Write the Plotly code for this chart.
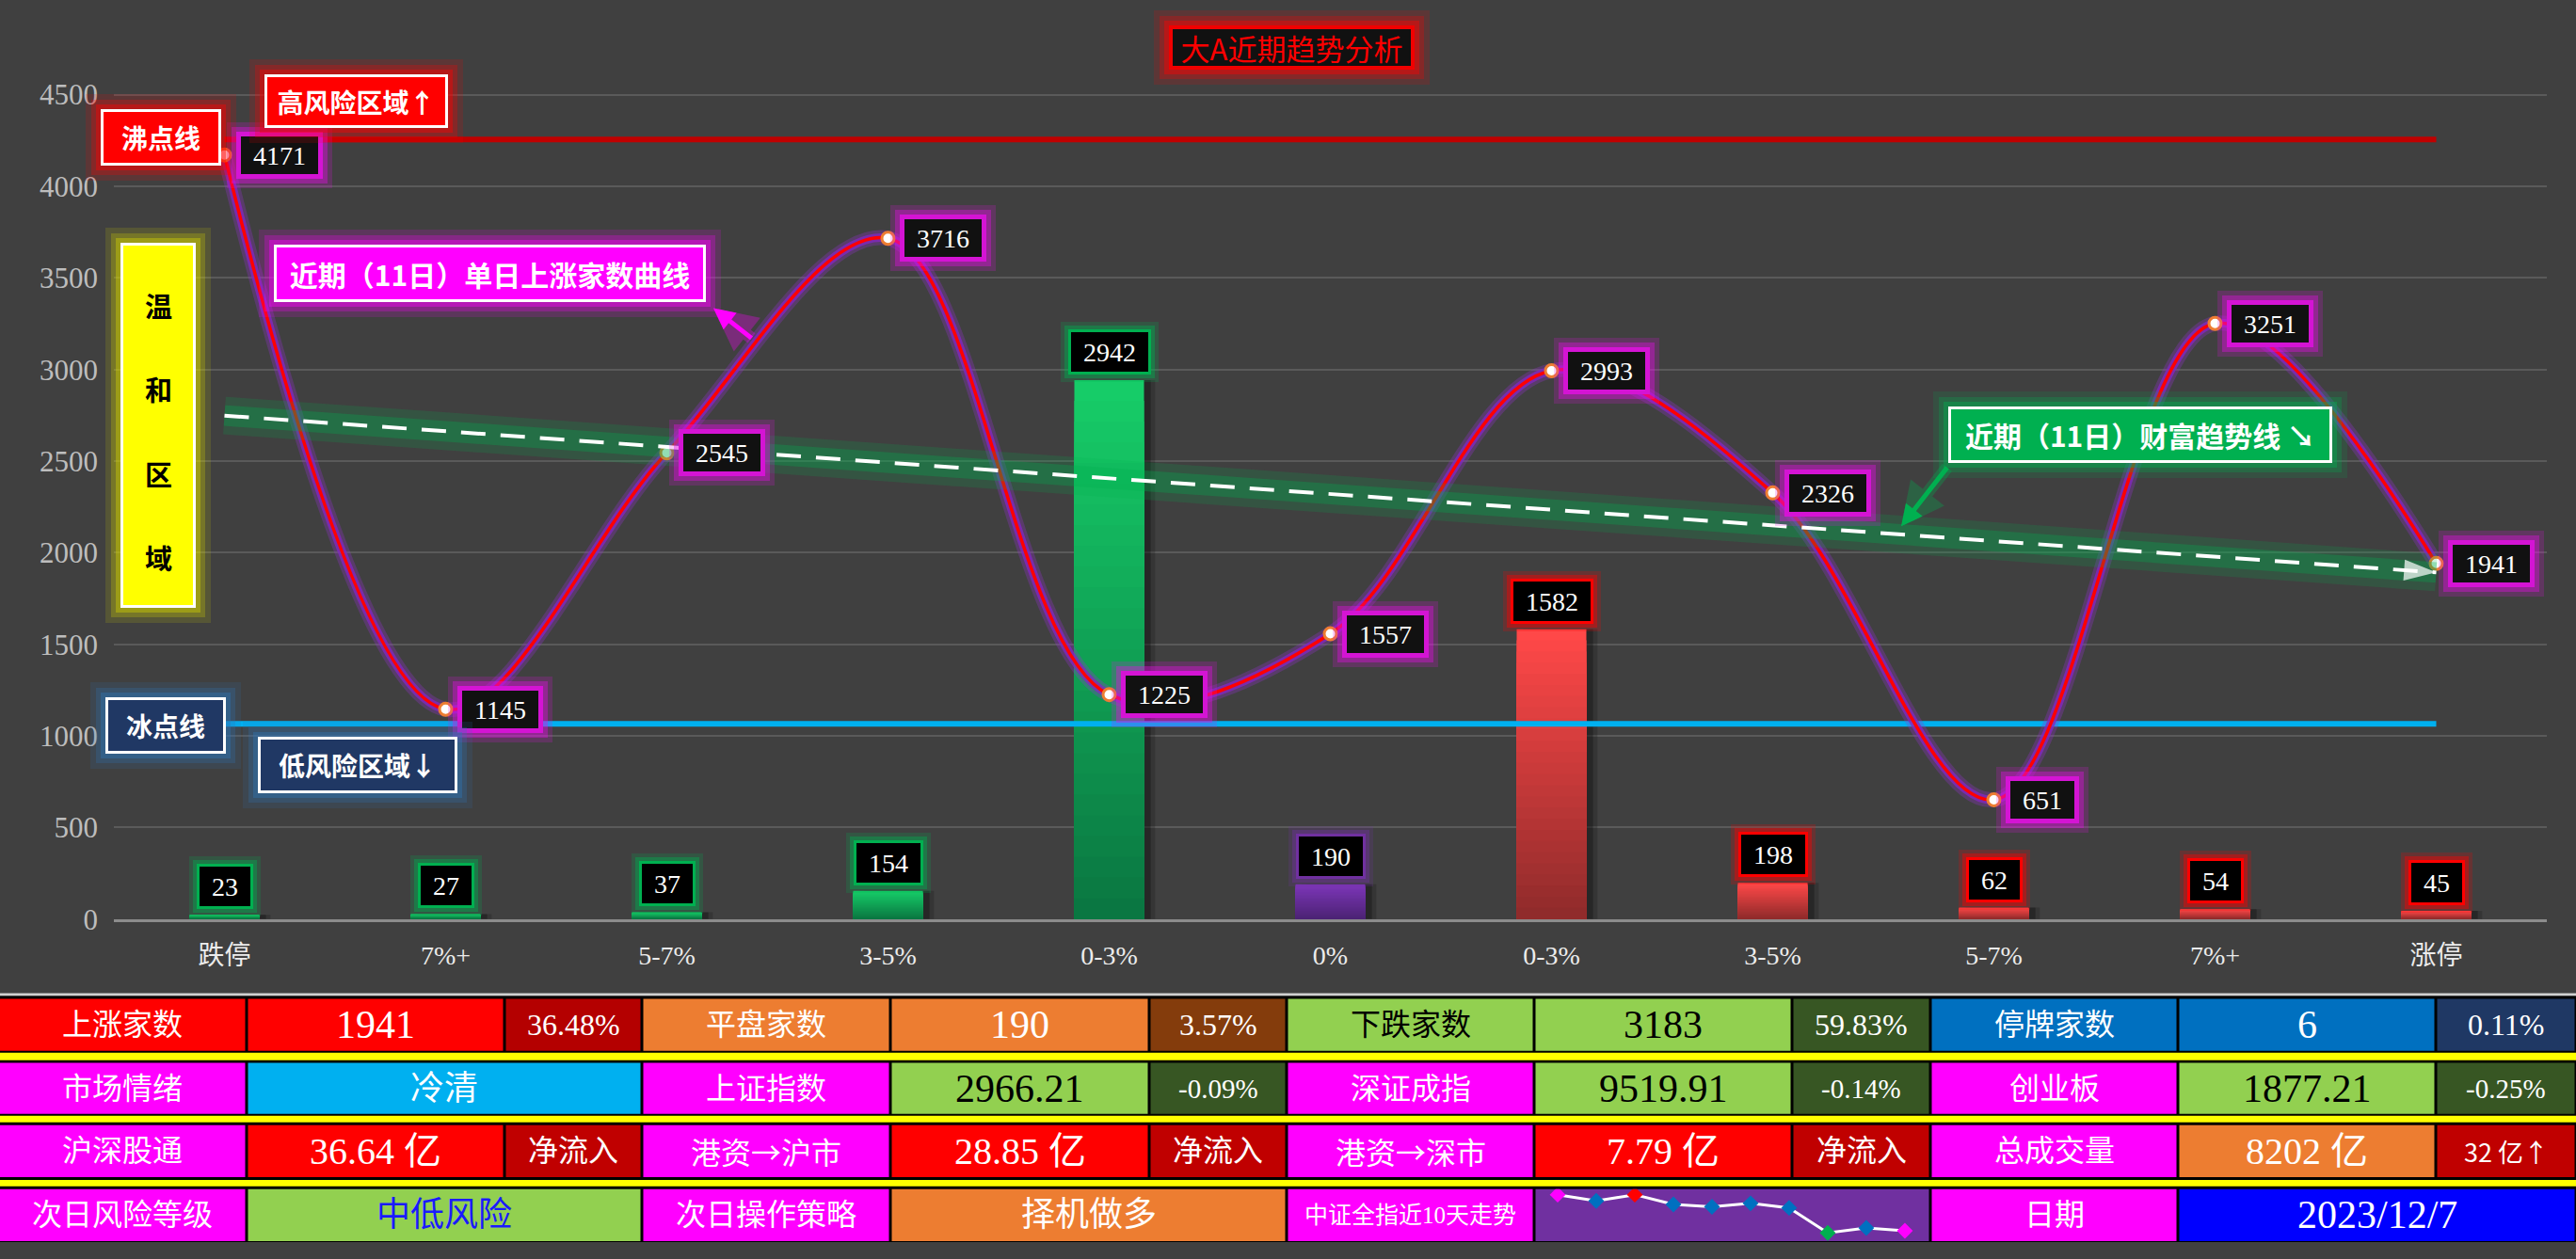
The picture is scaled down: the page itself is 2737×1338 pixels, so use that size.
import numpy as np
import plotly.graph_objects as go

W, H = 2737, 1338

# ---------------- data ----------------
categories = ['跌停', '7%+', '5-7%', '3-5%', '0-3%', '0%', '0-3%', '3-5%', '5-7%', '7%+', '涨停']
bar_values = [23, 27, 37, 154, 2942, 190, 1582, 198, 62, 54, 45]
bar_groups = ['down', 'down', 'down', 'down', 'down', 'flat', 'up', 'up', 'up', 'up', 'up']
rise_counts = [4171, 1145, 2545, 3716, 1225, 1557, 2993, 2326, 651, 3251, 1941]
boiling_point = 4255
freezing_point = 1065
y_ticks = [0, 500, 1000, 1500, 2000, 2500, 3000, 3500, 4000, 4500]

spark_values = [4790, 4772, 4790, 4762, 4755, 4765, 4752, 4680, 4694, 4686]
spark_marker_colors = ['#ff00ff', '#0070c0', '#ff0000', '#0070c0', '#0070c0',
                       '#0070c0', '#0070c0', '#00b050', '#0070c0', '#ff00ff']

row1_text = ['上涨家数', '1941', '36.48%', '平盘家数', '190', '3.57%',
             '下跌家数', '3183', '59.83%', '停牌家数', '6', '0.11%']
row2_text = ['市场情绪', '冷清', '上证指数', '2966.21', '-0.09%', '深证成指', '9519.91',
             '-0.14%', '创业板', '1877.21', '-0.25%']
row3_text = ['沪深股通', '36.64 亿', '净流入', '港资→沪市', '28.85 亿', '净流入',
             '港资→深市', '7.79 亿', '净流入', '总成交量', '8202 亿', '32 亿↑']
row4_text = ['次日风险等级', '中低风险', '次日操作策略', '择机做多', '中证全指近10天走势', '',
             '日期', '2023/12/7']

# ---------------- styles ----------------
row1_span = [1] * 12
row2_span = [1, 2, 1, 1, 1, 1, 1, 1, 1, 1, 1]
row3_span = [1] * 12
row4_span = [1, 2, 1, 2, 1, 2, 1, 2]

MAG = '#ff00ff'
row1_bg = ['#ff0000', '#ff0000', '#b40000', '#ed7d31', '#ed7d31', '#843c0c',
           '#92d050', '#92d050', '#375623', '#0070c0', '#0070c0', '#1f3864']
row1_fg = ['white', 'white', 'white', 'white', 'white', 'white',
           'black', 'black', 'white', 'white', 'white', 'white']
row1_size = [32, 42, 32, 32, 42, 32, 32, 42, 32, 32, 42, 32]
row2_bg = [MAG, '#00b0f0', MAG, '#92d050', '#375623', MAG, '#92d050', '#375623',
           MAG, '#92d050', '#375623']
row2_fg = ['white', 'white', 'white', 'black', 'white', 'white', 'black', 'white',
           'white', 'black', 'white']
row2_size = [32, 36, 32, 42, 29, 32, 42, 29, 32, 42, 29]
row3_bg = [MAG, '#ff0000', '#c00000', MAG, '#ff0000', '#c00000', MAG, '#ff0000', '#c00000',
           MAG, '#ed7d31', '#c00000']
row3_fg = ['white'] * 12
row3_size = [32, 40, 32, 32, 40, 32, 32, 40, 32, 32, 40, 27]
row4_bg = [MAG, '#92d050', MAG, '#ed7d31', MAG, '#7030a0', MAG, '#0000ff']
row4_fg = ['white', '#1a1aff', 'white', 'white', 'white', 'white', 'white', 'white']
row4_size = [32, 36, 32, 36, 25, 10, 32, 42]

col_edges = [0, 262, 536, 682, 946, 1221, 1367, 1630, 1904, 2051, 2314, 2588, 2737]
row_bands = [(1076, 1132), (1145, 1200), (1212, 1268), (1281, 1337)]
sep_bands = [(1134, 1142), (1202, 1209), (1271, 1278)]

SERIF = 'Liberation Serif, Noto Sans CJK SC'
SANS = 'Noto Sans CJK SC'


def px(x):
    return x / W


def py(y):
    return 1 - y / H


def hex2rgb(c):
    c = c.lstrip('#')
    return tuple(int(c[i:i + 2], 16) for i in (0, 2, 4))


def rgba(c, a):
    r, g, b = hex2rgb(c)
    return f'rgba({r},{g},{b},{a})'


def mix(c1, c2, t):
    a, b = hex2rgb(c1), hex2rgb(c2)
    return 'rgb(%d,%d,%d)' % tuple(round(a[i] + (b[i] - a[i]) * t) for i in range(3))


group_top = {'down': '#16cc68', 'flat': '#7d36b8', 'up': '#ff4848'}
group_bottom = {'down': '#0a7440', 'flat': '#4a2272', 'up': '#8c2a2a'}
label_border = {'down': '#00b050', 'flat': '#7030a0', 'up': '#ff0000'}

xs = list(range(len(categories)))
fig = go.Figure()

# ---- bar shadows ----
BW = 0.315
for off, a in [(0.05, 0.22), (0.03, 0.35)]:
    fig.add_trace(go.Bar(x=xs, y=bar_values, width=BW, offset=-BW / 2 + off,
                         marker=dict(color=f'rgba(15,15,15,{a})', line=dict(width=0)),
                         hoverinfo='skip', showlegend=False))

# ---- gradient bars (layered overlay) ----
N = 26
for k in range(N):
    f = 1 - k / N
    fig.add_trace(go.Bar(
        x=xs, y=[v * f for v in bar_values], width=BW,
        marker=dict(color=[mix(group_bottom[g], group_top[g], f) for g in bar_groups],
                    line=dict(width=0)),
        hoverinfo='skip', showlegend=False))

# ---- threshold lines ----
fig.add_trace(go.Scatter(x=xs, y=[boiling_point] * len(xs), mode='lines',
                         line=dict(color='#c00000', width=6), hoverinfo='skip', showlegend=False))
fig.add_trace(go.Scatter(x=xs, y=[freezing_point] * len(xs), mode='lines',
                         line=dict(color='#00b0f0', width=6), hoverinfo='skip', showlegend=False))

# ---- rise count curve ----
fig.add_trace(go.Scatter(x=xs, y=rise_counts, mode='lines',
                         line=dict(color='rgba(150,50,210,0.3)', width=16, shape='spline', smoothing=1),
                         hoverinfo='skip', showlegend=False))
fig.add_trace(go.Scatter(x=xs, y=rise_counts, mode='lines',
                         line=dict(color='rgba(130,40,190,0.8)', width=9, shape='spline', smoothing=1),
                         hoverinfo='skip', showlegend=False))
fig.add_trace(go.Scatter(x=xs, y=rise_counts, mode='lines',
                         line=dict(color='#ff0000', width=3.5, shape='spline', smoothing=1),
                         hoverinfo='skip', showlegend=False))
fig.add_trace(go.Scatter(x=xs, y=rise_counts, mode='markers',
                         marker=dict(size=13, color='white', line=dict(color='#ed7d31', width=3)),
                         hoverinfo='skip', showlegend=False))

# ---- linear trend of rise counts ----
coef = np.polyfit(xs, rise_counts, 1)
trend_x = [xs[0], xs[-1]]
trend_y = list(np.polyval(coef, trend_x))
fig.add_trace(go.Scatter(x=trend_x, y=trend_y, mode='lines',
                         line=dict(color='rgba(0,176,80,0.18)', width=40),
                         hoverinfo='skip', showlegend=False))
fig.add_trace(go.Scatter(x=trend_x, y=trend_y, mode='lines',
                         line=dict(color='rgba(0,176,80,0.3)', width=22),
                         hoverinfo='skip', showlegend=False))
fig.add_trace(go.Scatter(x=trend_x, y=trend_y, mode='lines',
                         line=dict(color='white', width=4, dash='26px,16px'),
                         hoverinfo='skip', showlegend=False))
fig.add_trace(go.Scatter(x=trend_x, y=trend_y, mode='markers',
                         marker=dict(symbol='arrow', size=[1, 36], angleref='previous',
                                     color=['rgba(0,0,0,0)', 'white'], line=dict(width=0)),
                         hoverinfo='skip', showlegend=False))

# ---- sparkline in table ----
fig.add_trace(go.Scatter(x=list(range(len(spark_values))), y=spark_values, xaxis='x2', yaxis='y2',
                         mode='lines+markers', line=dict(color='white', width=3),
                         marker=dict(symbol='diamond', size=13, color=spark_marker_colors),
                         hoverinfo='skip', showlegend=False))

anns = []

# ---- line labels ----
for i, v in enumerate(rise_counts):
    for g, a in [(10, 0.2), (5, 0.4)]:
        anns.append(dict(x=i, y=v, xref='x', yref='y', text=f'\u00a0{v}\u00a0', showarrow=False,
                         font=dict(family=SERIF, size=28, color='rgba(0,0,0,0)'),
                         xanchor='left', yanchor='middle', xshift=12 - g, height=28,
                         bgcolor=rgba('#e010e0', a), borderwidth=0, borderpad=5 + 6 + g))
for i, v in enumerate(rise_counts):
    anns.append(dict(x=i, y=v, xref='x', yref='y', text=f'\u00a0{v}\u00a0', showarrow=False,
                     font=dict(family=SERIF, size=28, color='white'),
                     xanchor='left', yanchor='middle', xshift=12, height=28,
                     bgcolor='#111111', bordercolor='#d414d4', borderwidth=5, borderpad=6))

# ---- bar labels ----
for i, v in enumerate(bar_values):
    bc = label_border[bar_groups[i]]
    for g, a in [(8, 0.2), (4, 0.4)]:
        anns.append(dict(x=i, y=v, xref='x', yref='y', text=f'\u00a0{v}\u00a0', showarrow=False,
                         font=dict(family=SERIF, size=28, color='rgba(0,0,0,0)'),
                         xanchor='center', yanchor='bottom', yshift=6 - g, height=30,
                         bgcolor=rgba(bc, a), borderwidth=0, borderpad=3 + 6 + g))
    anns.append(dict(x=i, y=v, xref='x', yref='y', text=f'\u00a0{v}\u00a0', showarrow=False,
                     font=dict(family=SERIF, size=28, color='white'),
                     xanchor='center', yanchor='bottom', yshift=6, height=30,
                     bgcolor='#000000', bordercolor=bc, borderwidth=3, borderpad=6))


# ---- decorated boxes ----
def add_box(text, cx, cy, w, h, bg, fg, size, bordercolor='white', bw=3, glow=None, bold=True):
    iw, ih = w - 2 * bw, h - 2 * bw
    t = f'<b>{text}</b>' if bold else text
    if glow:
        for g, a in [(16, 0.15), (10, 0.25), (5, 0.4)]:
            anns.append(dict(x=px(cx), y=py(cy), xref='paper', yref='paper', text=t, showarrow=False,
                             font=dict(family=SANS, size=size, color='rgba(0,0,0,0)'),
                             width=iw, height=ih, bgcolor=rgba(glow, a), borderwidth=0, borderpad=bw + g,
                             xanchor='center', yanchor='middle'))
    anns.append(dict(x=px(cx), y=py(cy), xref='paper', yref='paper', text=t, showarrow=False,
                     font=dict(family=SANS, size=size, color=fg),
                     width=iw, height=ih, bgcolor=bg, bordercolor=bordercolor, borderwidth=bw, borderpad=0,
                     xanchor='center', yanchor='middle'))


def add_arrow(head, tail, color):
    for wdt, col in [(13, rgba(color, 0.3)), (5, color)]:
        anns.append(dict(x=px(head[0]), y=py(head[1]), xref='paper', yref='paper', text='',
                         showarrow=True, ax=tail[0] - head[0], ay=tail[1] - head[1],
                         arrowcolor=col, arrowwidth=wdt, arrowhead=2, arrowsize=0.7 if wdt > 6 else 0.9))


add_box('大A近期趋势分析', 1372, 51, 261, 47, '#111111', '#ff0000', 31, bordercolor='#f00000', bw=4,
        glow='#ff0000', bold=False)
add_box('沸点线', 171, 148, 128, 60, '#ff0000', 'white', 28, glow='#ff0000')
add_box('高风险区域↑', 378, 109, 195, 57, '#ff0000', 'white', 28, glow='#ff0000')
add_box('', 168, 458, 80, 388, '#ffff00', 'black', 10, glow='#d8d800')
for ch, yy in zip('温和区域', [328, 419, 510, 600]):
    anns.append(dict(x=px(168), y=py(yy), xref='paper', yref='paper', text=f'<b>{ch}</b>', showarrow=False,
                     font=dict(family=SANS, size=29, color='black'), xanchor='center', yanchor='middle'))
add_box('近期（11日）单日上涨家数曲线', 520, 294, 459, 61, '#ff00ff', 'white', 30, glow='#ff00ff')
add_box('近期（11日）财富趋势线 ↘', 2274, 468, 408, 60, '#00b050', 'white', 30, glow='#00b050')
add_box('冰点线', 176, 782, 128, 60, '#203864', 'white', 28, glow='#2e75b6')
add_box('低风险区域↓', 380, 824, 212, 60, '#203864', 'white', 28, glow='#2e75b6')
add_arrow((758, 332), (800, 365), '#ff00ff')
add_arrow((2020, 567), (2070, 503), '#00b050')

# ---- table ----
shapes = []
shapes.append(dict(type='rect', xref='paper', yref='paper', x0=0, x1=1, y0=py(1073), y1=py(1070),
                   fillcolor='#d0d0d0', line=dict(width=0), layer='below'))
shapes.append(dict(type='rect', xref='paper', yref='paper', x0=0, x1=1, y0=0, y1=py(1073),
                   fillcolor='#000000', line=dict(width=0), layer='below'))
for (a, b) in sep_bands:
    shapes.append(dict(type='rect', xref='paper', yref='paper', x0=0, x1=1, y0=py(b), y1=py(a),
                       fillcolor='#ffff00', line=dict(width=0), layer='below'))

rows = [(row1_text, row1_span, row1_bg, row1_fg, row1_size),
        (row2_text, row2_span, row2_bg, row2_fg, row2_size),
        (row3_text, row3_span, row3_bg, row3_fg, row3_size),
        (row4_text, row4_span, row4_bg, row4_fg, row4_size)]
for (texts, spans, bgs, fgs, sizes), (top, bot) in zip(rows, row_bands):
    c = 0
    for t, s, bg, fg, sz in zip(texts, spans, bgs, fgs, sizes):
        left = col_edges[c] + (1.5 if c > 0 else 0)
        right = col_edges[c + s] - 1.5
        c += s
        shapes.append(dict(type='rect', xref='paper', yref='paper', x0=px(left), x1=px(right),
                           y0=py(bot), y1=py(top), fillcolor=bg, line=dict(width=0), layer='below'))
        if t:
            fam = SANS if ('→' in t or '↑' in t) else SERIF
            anns.append(dict(x=px((left + right) / 2), y=py((top + bot) / 2), xref='paper', yref='paper',
                             text=t, showarrow=False, font=dict(family=fam, size=sz, color=fg),
                             xanchor='center', yanchor='middle'))

fig.update_layout(
    width=W, height=H, margin=dict(l=0, r=0, t=0, b=0),
    paper_bgcolor='#404040', plot_bgcolor='rgba(0,0,0,0)',
    barmode='overlay', showlegend=False,
    xaxis=dict(domain=[px(121), px(2706)], range=[-0.5, 10.5], tickvals=xs, ticktext=categories,
               showgrid=False, zeroline=False, showline=True, linecolor='#8c8c8c', linewidth=3,
               ticks='', tickfont=dict(family=SERIF, size=28, color='#ececec'), ticklabelstandoff=12,
               fixedrange=True),
    yaxis=dict(domain=[py(990), 1], range=[0, 990 / (888 / 4500)], tickvals=y_ticks,
               showgrid=True, gridcolor='#5a5a5a', gridwidth=2, zeroline=False, showline=False,
               ticks='', tickfont=dict(family=SERIF, size=31, color='#bdbdbd'), ticklabelstandoff=16,
               fixedrange=True),
    xaxis2=dict(domain=[px(1630), px(2051)], range=[-0.61, 9.66], visible=False, anchor='y2'),
    yaxis2=dict(domain=[py(1337), py(1281)], range=[4656, 4806], visible=False, anchor='x2'),
    annotations=anns, shapes=shapes,
)

fig.write_html('out.html', config={'displayModeBar': False, 'responsive': False},
               post_script="var gd=document.getElementById('{plot_id}');"
                           "gd.style.position='fixed';gd.style.left='0px';gd.style.top='0px';"
                           "document.documentElement.style.margin='0px';"
                           "document.body.style.margin='0px';"
                           "document.documentElement.style.overflow='hidden';"
                           "document.body.style.overflow='hidden';"
                           "document.body.style.background='#404040';")
